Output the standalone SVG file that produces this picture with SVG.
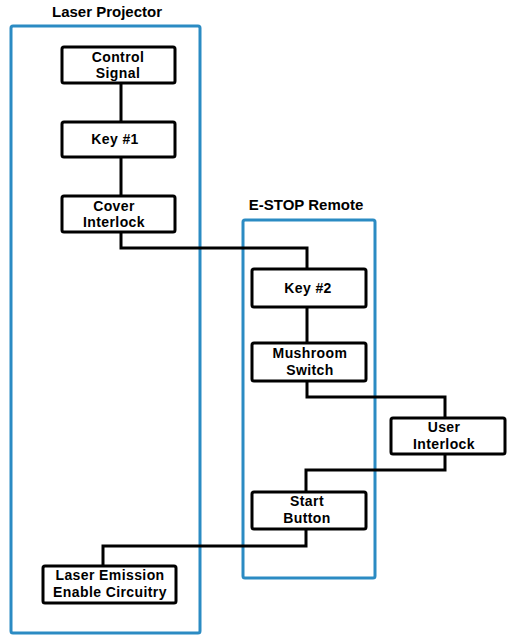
<svg xmlns="http://www.w3.org/2000/svg" width="516" height="644" viewBox="0 0 516 644">
<style>
.grp{fill:none;stroke:#2b8bc3;stroke-width:3}
.box{fill:#fff;stroke:#000;stroke-width:3}
.t{font-family:"Liberation Sans",Arial,sans-serif;font-weight:bold;font-size:14px;letter-spacing:0.4px;fill:#000;text-anchor:middle}
.gt{font-family:"Liberation Sans",Arial,sans-serif;font-weight:bold;font-size:15px;fill:#000;text-anchor:middle}
.c{fill:none;stroke:#000;stroke-width:3}
</style>
<rect width="516" height="644" fill="#fff"/>
<g id="laser-projector">
<rect class="grp" x="11" y="26" width="189" height="607" rx="2"/>
<text class="gt" x="107" y="17">Laser Projector</text>
</g>
<g id="estop-remote">
<rect class="grp" x="243" y="220" width="132" height="358" rx="2"/>
<text class="gt" x="306" y="210">E-STOP Remote</text>
</g>
<g id="connectors">
<path class="c" d="M121 83V122M121 157V196M121 232V248H307V269M307 307V343M307 381V397H445V418M445 454V470H306V492M306 529V546H103V566"/>
</g>
<g id="control-signal">
<rect class="box" x="62" y="47" width="113" height="36" rx="2"/>
<text class="t" x="118" y="62">Control</text>
<text class="t" x="118" y="78">Signal</text>
</g>
<g id="key1">
<rect class="box" x="62" y="122" width="113" height="35" rx="2"/>
<text class="t" x="115" y="144">Key #1</text>
</g>
<g id="cover-interlock">
<rect class="box" x="62" y="196" width="113" height="36" rx="2"/>
<text class="t" x="114" y="211">Cover</text>
<text class="t" x="114" y="227">Interlock</text>
</g>
<g id="key2">
<rect class="box" x="252" y="269" width="114" height="38" rx="2"/>
<text class="t" x="308" y="293">Key #2</text>
</g>
<g id="mushroom-switch">
<rect class="box" x="252" y="343" width="114" height="38" rx="2"/>
<text class="t" x="310" y="358">Mushroom</text>
<text class="t" x="310" y="375">Switch</text>
</g>
<g id="user-interlock">
<rect class="box" x="391" y="418" width="114" height="36" rx="2"/>
<text class="t" x="444" y="432">User</text>
<text class="t" x="444" y="449">Interlock</text>
</g>
<g id="start-button">
<rect class="box" x="252" y="492" width="114" height="37" rx="2"/>
<text class="t" x="307" y="506">Start</text>
<text class="t" x="307" y="523">Button</text>
</g>
<g id="laser-emission">
<rect class="box" x="43" y="566" width="133" height="37" rx="2"/>
<text class="t" x="110" y="580">Laser Emission</text>
<text class="t" x="110" y="597">Enable Circuitry</text>
</g>
</svg>
